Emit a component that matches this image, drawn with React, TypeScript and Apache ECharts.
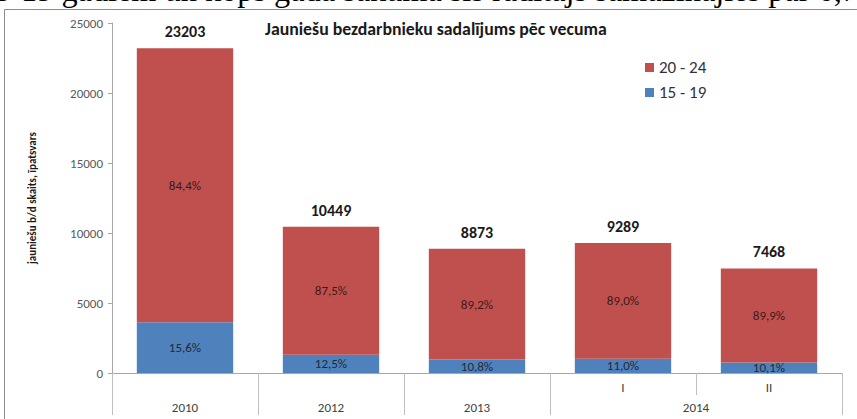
import React, { useEffect, useRef } from "react";
import * as echarts from "echarts";

const subLabels = ["", "", "", "I", "II"];
const yearGroups = ["2010", "2012", "2013", "2014", "2014"];
const totals = [23203, 10449, 8873, 9289, 7468];
const age1519 = [3620, 1306, 958, 1022, 754];
const age2024 = [19583, 9143, 7915, 8267, 6714];
const pct1519 = ["15,6%", "12,5%", "10,8%", "11,0%", "10,1%"];
const pct2024 = ["84,4%", "87,5%", "89,2%", "89,0%", "89,9%"];
const yTicks = [0, 5000, 10000, 15000, 20000, 25000];
const seriesNames = ["20 - 24", "15 - 19"];
const titleText = "Jauniešu bezdarbnieku sadalījums pēc vecuma";
const yAxisName = "jauniešu b/d skaits, īpatsvars";
const topLine = "15-19 gadiem un kopš gada sākuma šis rādītājs samazinājies par 6,7 %";

const FONT = "Carlito, 'Liberation Sans Narrow', Roboto, sans-serif";

export default function App() {
  const ref = useRef<HTMLDivElement>(null);
  useEffect(() => {
    document.body.style.margin = "0";
    if (!ref.current) return;
    const chart = echarts.init(ref.current, undefined, { renderer: "svg" });

    const groups: { name: string; start: number; end: number }[] = [];
    yearGroups.forEach((g, i) => {
      const last = groups[groups.length - 1];
      if (last && last.name === g) last.end = i + 1;
      else groups.push({ name: g, start: i, end: i + 1 });
    });
    const boundaries = [0, ...groups.map((g) => g.end)];
    const centers = groups.map((g) => (g.start + g.end) / 2);

    chart.setOption({
      animation: false,
      textStyle: { fontFamily: FONT },
      grid: { left: 112, right: 15, top: 23, bottom: 46, containLabel: false },
      title: {
        text: titleText,
        left: 260,
        top: 15,
        textStyle: { fontSize: 17.8, fontWeight: "bold", color: "#1a1a1a", fontFamily: FONT },
      },
      legend: {
        data: seriesNames,
        orient: "vertical",
        left: 640,
        top: 54,
        itemWidth: 9,
        itemHeight: 9,
        itemGap: 8,
        icon: "rect",
        textStyle: { fontSize: 17, color: "#333", fontFamily: FONT },
      },
      graphic: [
        {
          type: "rect",
          z: -1,
          shape: { x: 4.5, y: 9.5, width: 1000, height: 1000 },
          style: { fill: "none", stroke: "#8c8c8c", lineWidth: 1 },
        },
        {
          type: "text",
          left: -22,
          top: -26,
          style: {
            text: topLine,
            font: "32.3px 'Liberation Serif', 'Times New Roman', serif",
            fill: "#000",
          },
        },
      ],
      xAxis: [
        {
          type: "category",
          data: subLabels.map((_, i) => String(i)),
          axisLine: { lineStyle: { color: "#a6a6a6" } },
          axisTick: { show: true, alignWithLabel: false, interval: 0, length: 22, lineStyle: { color: "#bfbfbf" } },
          axisLabel: {
            interval: 0,
            margin: 8,
            fontSize: 13,
            color: "#404040",
            formatter: (_v: string, i: number) => subLabels[i],
          },
        },
        {
          type: "value",
          position: "bottom",
          min: 0,
          max: subLabels.length,
          axisLine: { show: false },
          splitLine: { show: false },
          axisTick: {
            show: true,
            length: 42,
            customValues: boundaries,
            lineStyle: { color: "#bfbfbf" },
          },
          axisLabel: {
            customValues: centers,
            margin: 28,
            fontSize: 13,
            color: "#404040",
            formatter: (v: number) => {
              const idx = centers.indexOf(v);
              return idx >= 0 ? groups[idx].name : "";
            },
          },
        },
      ],
      yAxis: {
        type: "value",
        min: yTicks[0],
        max: yTicks[yTicks.length - 1],
        interval: yTicks[1] - yTicks[0],
        name: yAxisName,
        nameLocation: "middle",
        nameGap: 74,
        nameTextStyle: { fontSize: 11, fontWeight: "bold", color: "#1a1a1a", fontFamily: FONT },
        axisLine: { show: true, lineStyle: { color: "#a6a6a6" } },
        axisTick: { show: true, length: 4, lineStyle: { color: "#a6a6a6" } },
        splitLine: { show: false },
        axisLabel: { fontSize: 13, color: "#595959", margin: 9, formatter: (v: number) => String(v) },
      },
      series: [
        {
          name: seriesNames[1],
          type: "bar",
          stack: "total",
          barWidth: "66%",
          data: age1519,
          itemStyle: { color: "#4F81BD" },
          label: {
            show: true,
            position: "inside",
            fontSize: 13,
            color: "#1f2a3a",
            formatter: (p: any) => pct1519[p.dataIndex],
          },
        },
        {
          name: seriesNames[0],
          type: "bar",
          stack: "total",
          barWidth: "66%",
          data: age2024,
          itemStyle: { color: "#C0504D" },
          label: {
            show: true,
            position: "inside",
            fontSize: 13,
            color: "#3a1a1a",
            formatter: (p: any) => pct2024[p.dataIndex],
          },
        },
        {
          name: "total",
          type: "line",
          data: totals,
          symbol: "circle",
          symbolSize: 1,
          itemStyle: { opacity: 0 },
          lineStyle: { opacity: 0 },
          silent: true,
          label: {
            show: true,
            position: "top",
            distance: 8,
            fontSize: 16,
            fontWeight: "bold",
            color: "#1a1a1a",
            opacity: 1,
          },
        },
      ],
    });
    return () => chart.dispose();
  }, []);
  return <div ref={ref} style={{ width: 857, height: 419 }} />;
}
